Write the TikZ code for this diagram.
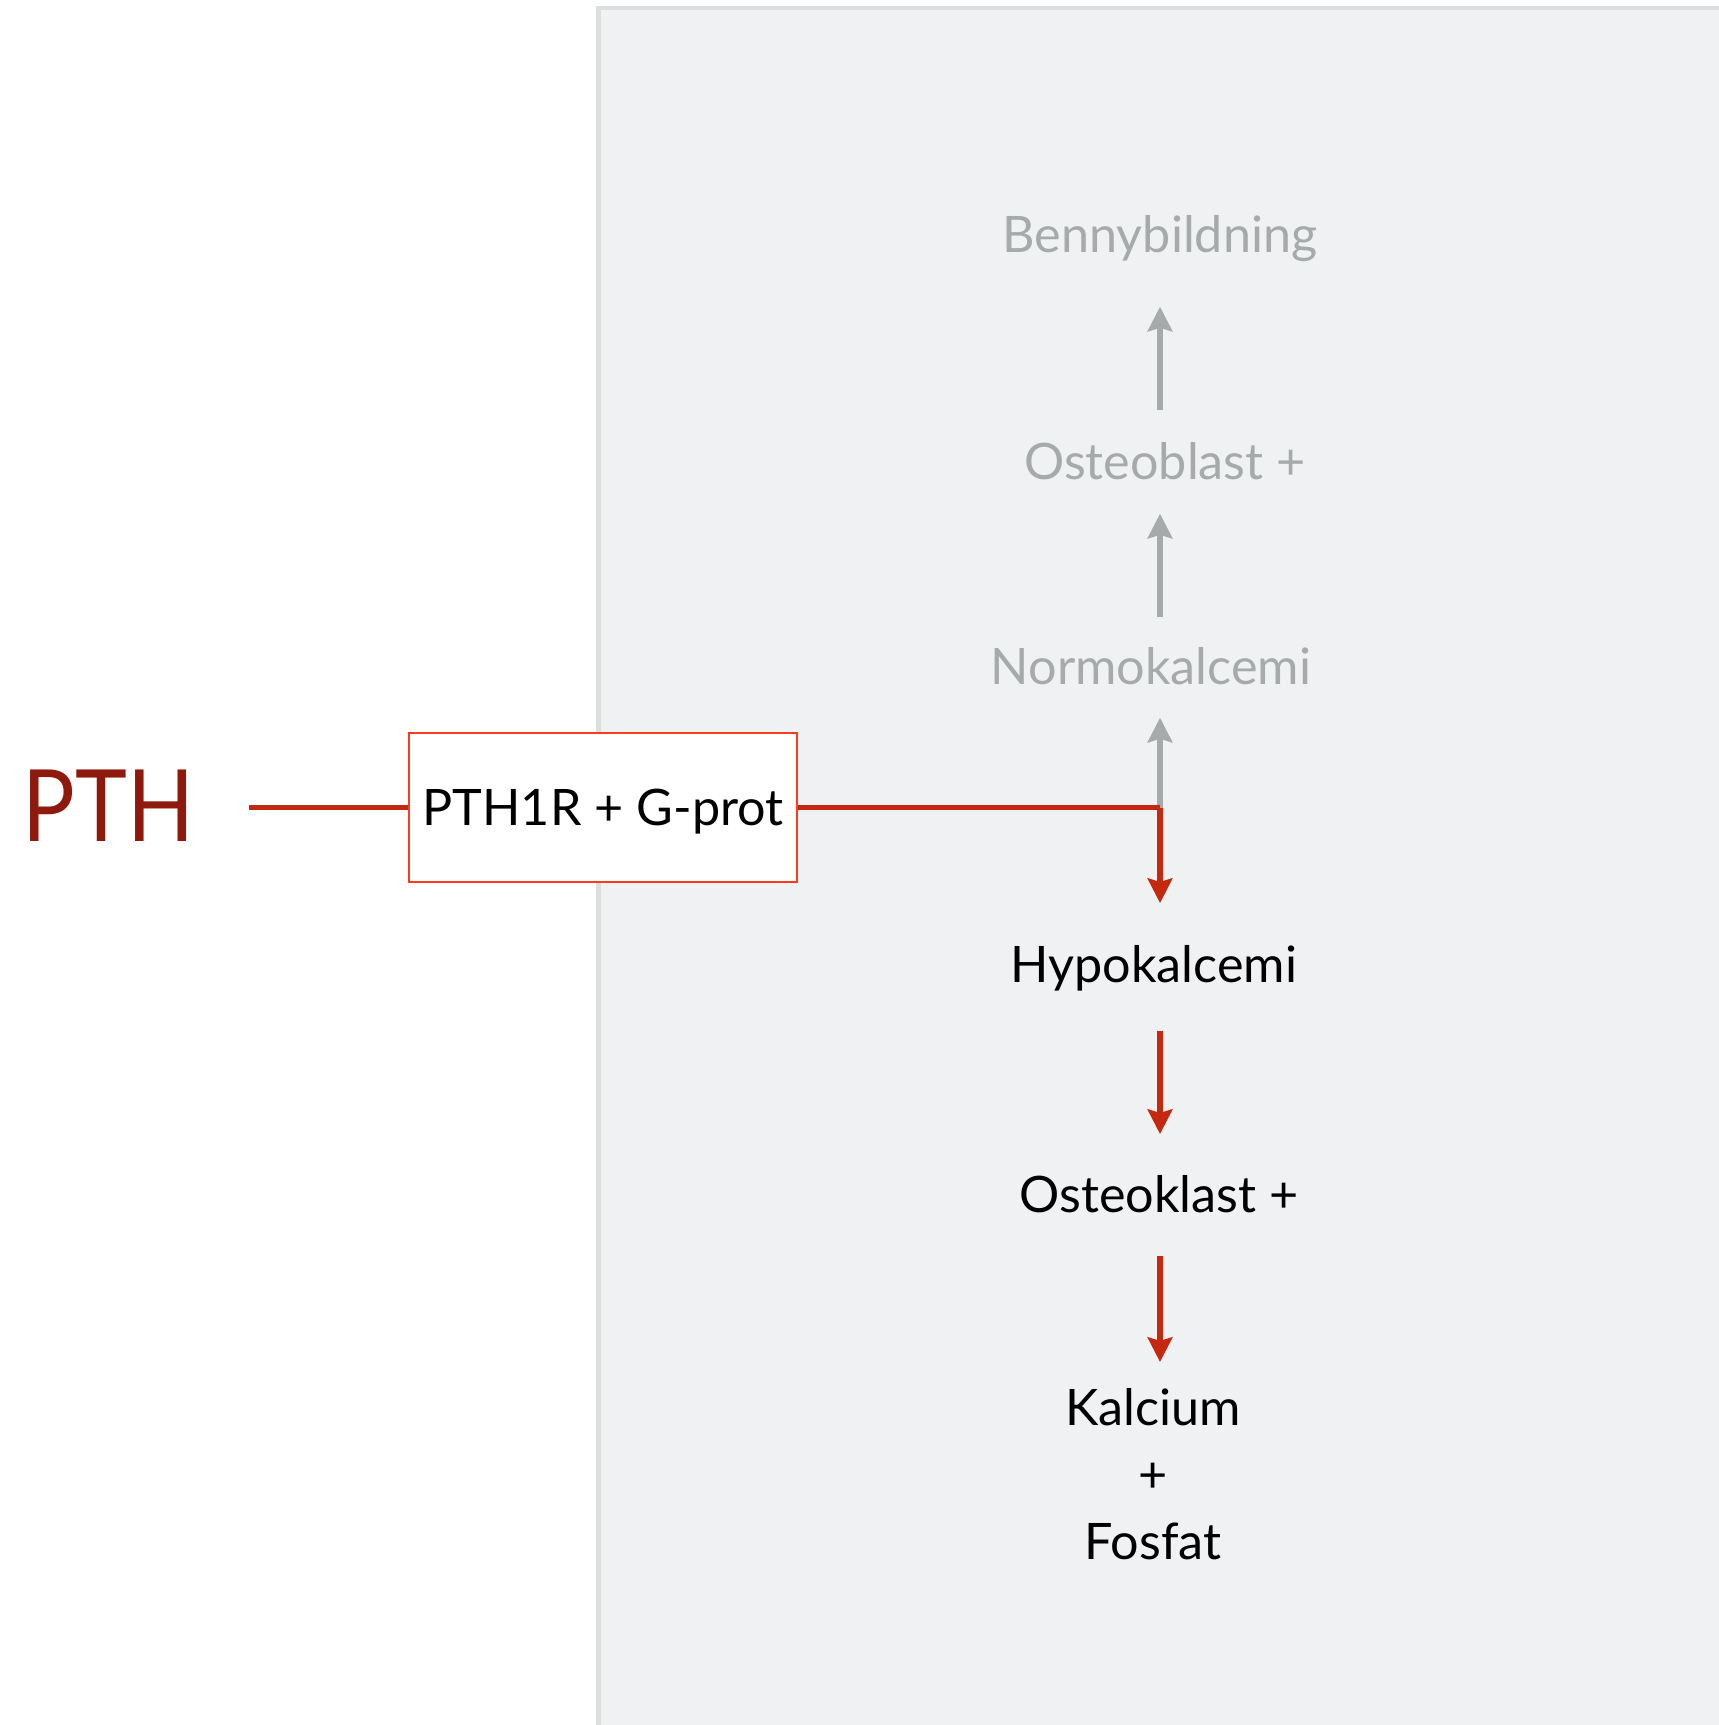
\documentclass[tikz,border=0pt]{standalone}
\usepackage{fontspec}
\setmainfont{Lato}
\usepackage{tikz}
\usetikzlibrary{arrows.meta,positioning}
\definecolor{pnlfill}{HTML}{F0F1F3}
\definecolor{pnlline}{HTML}{DDDFDF}
\definecolor{cgray}{HTML}{A7AAAA}
\definecolor{cred}{HTML}{C42910}
\definecolor{cpth}{HTML}{8E1A0E}
\definecolor{cbox}{HTML}{FF3A1E}

\begin{document}
\begin{tikzpicture}[
  x=0.01cm,y=-0.01cm,
  lbl/.style={inner sep=0pt,text height=10.3pt,text depth=0pt,
              font=\fontsize{14.3}{19}\selectfont},
  dim/.style={lbl,text=cgray},
  act/.style={lbl,text=black},
  res/.style={inner sep=0pt,align=center,text=black,
              font=\fontsize{14.3}{19.06}\selectfont},
  rcpt/.style={draw=cbox,line width=0.6pt,fill=white,inner sep=0pt,
               minimum width=3.88cm,minimum height=1.49cm,
               text height=10.3pt,text depth=0pt,font=\fontsize{14.3}{19}\selectfont},
  ln/.style={draw=cred,line width=1.45pt},
  up/.style={-{Stealth[length=7pt,width=7pt,inset=1pt]},draw=cgray,line width=1.45pt},
  dn/.style={-{Stealth[length=7pt,width=7pt,inset=1pt]},draw=cred,line width=1.45pt}]

\clip (0,0) rectangle (1719,1725);
\fill[white] (0,0) rectangle (1719,1725);

% ---------------- panel ----------------
\draw[draw=pnlline,fill=pnlfill,line width=1.4pt] (598.5,8) rectangle (1760,1760);

% ---------------- hormone and receptor ----------------
\node[inner sep=0pt,anchor=base west,text=cpth,font=\fontsize{28.4}{34}\selectfont]
  (pth) at (22,841) {\scalebox{0.88}[1]{PTH}};
\node[rcpt] (rec) at (603,807.5) {PTH1R + G-prot};
\coordinate (jn) at (1160,807.5);

% ---------------- upper chain (grey) ----------------
\node[dim,anchor=base] (normo) at (1151,684) {Normokalcemi};
\node[dim,anchor=base] (osb)   at (1165,480) {Osteoblast +};
\node[dim,anchor=base] (bone)  at (1160,253) {Bennybildning};

% ---------------- lower chain (red) ----------------
\node[act,anchor=base] (hypo) at (1154,982) {Hypokalcemi};
\node[act,anchor=base] (osk)  at (1159,1212) {Osteoklast +};
\node[res,anchor=north] (kal) at (1153,1388) {Kalcium\\+\\Fosfat};

% ---------------- connectors ----------------
\draw[up,shorten >=0.33cm] (jn) -- (normo.south -| jn);
\draw[up,shorten <=0.30cm,shorten >=0.33cm] (normo.north -| jn) -- (osb.south -| jn);
\draw[up,shorten <=0.33cm,shorten >=0.53cm] (osb.north -| jn) -- (bone.south -| jn);

\draw[ln] (rec.west -| 249,0) -- (rec.west);
\draw[ln] (rec.east) -- (jn);
\draw[dn,shorten >=0.42cm] (jn) -- (hypo.north -| jn);
\draw[dn,shorten <=0.48cm,shorten >=0.41cm] (hypo.south -| jn) -- (osk.north -| jn);
\draw[dn,shorten <=0.43cm,shorten >=0.26cm] (osk.south -| jn) -- (kal.north -| jn);
\end{tikzpicture}
\end{document}
